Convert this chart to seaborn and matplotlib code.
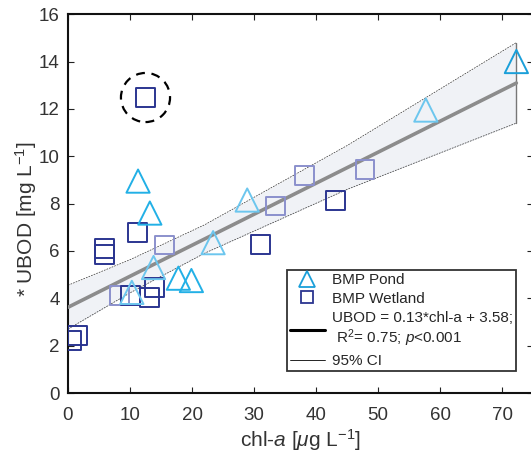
import numpy as np
import pandas as pd
import seaborn as sns
import matplotlib.pyplot as plt
from matplotlib.lines import Line2D

# BMP Pond (triangles)
pond_chla = [72.3, 57.7, 11.3, 13.2, 28.9, 23.4, 13.8, 17.8, 19.9, 10.3]
pond_ubod = [14.0, 11.95, 8.95, 7.6, 8.15, 6.35, 5.3, 4.85, 4.75, 4.25]
pond_shade = ["dark", "light", "mid", "mid", "light", "light", "light", "mid", "mid", "light"]

# BMP Wetland (squares)
wet_chla = [12.5, 5.9, 5.9, 11.2, 15.5, 31.0, 38.2, 47.9, 43.2, 33.4,
            8.3, 10.1, 13.9, 13.1, 0.5, 1.6]
wet_ubod = [12.48, 6.1, 5.85, 6.77, 6.25, 6.28, 9.2, 9.45, 8.12, 7.9,
            4.1, 4.1, 4.45, 4.03, 2.23, 2.44]
wet_shade = ["dark", "dark", "dark", "dark", "light", "dark", "light", "light", "dark", "light",
             "light", "dark", "dark", "dark", "dark", "dark"]

# outlier (circled)
outlier_chla = [12.5]
outlier_ubod = [12.48]

# regression and 95% CI
slope, intercept = 0.131, 3.62
fit_x = [0.0, 72.3]
ci_x = [0.0, 10.0, 22.0, 45.0, 72.3]
ci_upper = [4.55, 5.63, 7.1, 10.45, 14.8]
ci_lower = [2.7, 4.23, 5.9, 8.6, 11.4]

sns.set_theme(style="ticks")
plt.rcParams["font.family"] = ["Liberation Sans", "DejaVu Sans"]
plt.rcParams["mathtext.fontset"] = "custom"
plt.rcParams["mathtext.rm"] = "Liberation Sans"
plt.rcParams["mathtext.it"] = "Liberation Sans:italic"

pond_pal = {"dark": "#1a9fd9", "mid": "#22b0e6", "light": "#6cc6ee"}
wet_pal = {"dark": "#2b3590", "light": "#8b90cc"}

fig = plt.figure(figsize=(5.31, 4.57), dpi=100)
ax = fig.add_axes([0.128, 0.140, 0.876, 0.829])

# CI band
ax.fill_between(ci_x, ci_lower, ci_upper, color="#f0f2f6", lw=0, zorder=1)
ax.plot(ci_x, ci_upper, color="#333333", lw=0.5, ls=(0, (2.5, 1.5)), zorder=2)
ax.plot(ci_x, ci_lower, color="#333333", lw=0.5, ls=(0, (2.5, 1.5)), zorder=2)
ax.plot([ci_x[-1], ci_x[-1]], [ci_lower[-1], ci_upper[-1]], color="#777777", lw=1.0, zorder=2)

# regression line
fit_y = [intercept + slope * v for v in fit_x]
sns.lineplot(x=fit_x, y=fit_y, color="#8c8c8c", lw=2.6, ax=ax, zorder=3)

pond = pd.DataFrame({"chla": pond_chla, "ubod": pond_ubod, "shade": pond_shade})
wet = pd.DataFrame({"chla": wet_chla, "ubod": wet_ubod, "shade": wet_shade})

sns.scatterplot(data=wet, x="chla", y="ubod", hue="shade", palette=wet_pal,
                marker="s", s=185, linewidth=1.4, legend=False, ax=ax, zorder=4)
coll = ax.collections[-1]
coll.set_edgecolors([wet_pal[s] for s in wet_shade])
coll.set_facecolors("none")

sns.scatterplot(data=pond, x="chla", y="ubod", hue="shade", palette=pond_pal,
                marker="^", s=280, linewidth=1.4, legend=False, ax=ax, zorder=5)
coll = ax.collections[-1]
coll.set_edgecolors([pond_pal[s] for s in pond_shade])
coll.set_facecolors("none")

# dashed circle round the outlier
ax.scatter(outlier_chla, outlier_ubod, s=1250, facecolors="none", edgecolors="black",
           linewidths=1.6, linestyles=(0, (4, 3)), zorder=6)

ax.set_xlim(0, 75)
ax.set_ylim(0, 16)
ax.set_xticks([0, 10, 20, 30, 40, 50, 60, 70])
ax.set_yticks([0, 2, 4, 6, 8, 10, 12, 14, 16])
ax.tick_params(direction="in", length=4, width=0.8, labelsize=13.5,
               top=True, right=True, colors="#222222", labelcolor="#333333", pad=6)
ax.tick_params(axis="x", pad=10)
for sp in ax.spines.values():
    sp.set_linewidth(1.5)
    sp.set_color("#111111")
    sp.set_visible(True)

ax.set_xlabel("chl-$\\it{a}$ [$\\it{\\mu}$g L$^{-1}$]", fontsize=15, color="#333333", labelpad=2)
ax.set_ylabel("* UBOD [mg L$^{-1}$]", fontsize=15, color="#333333")
ax.yaxis.set_label_coords(-0.062, 0.46)

handles = [
    Line2D([], [], ls="none", marker="^", ms=12, mfc="none", mec="#1a9fd9", mew=1.3),
    Line2D([], [], ls="none", marker="s", ms=9, mfc="none", mec="#2b3590", mew=1.3),
    Line2D([], [], color="black", lw=2.2),
    Line2D([], [], color="black", lw=0.6),
]
labels = [
    "BMP Pond",
    "BMP Wetland",
    "UBOD = 0.13*chl-a + 3.58;\n R$^2$= 0.75; $\\it{p}$<0.001",
    "95% CI",
]
leg = ax.legend(handles, labels, loc="upper left", bbox_to_anchor=(0.470, 0.325),
                frameon=True, fancybox=False, fontsize=11, handlelength=2.3,
                handletextpad=0.45, labelspacing=0.32, borderpad=0.2, borderaxespad=0)
leg.get_frame().set_edgecolor("black")
leg.get_frame().set_linewidth(1.3)
leg.set_zorder(10)

fig.savefig("out.png", dpi=100)
